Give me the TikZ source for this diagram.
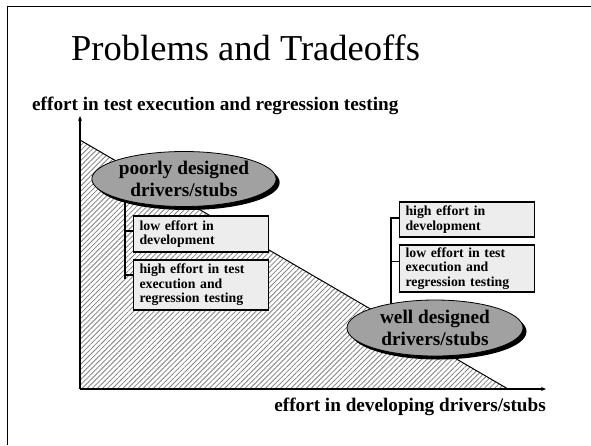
\documentclass[tikz,border=0pt]{standalone}
\usepackage{fontspec}
\setmainfont{Liberation Serif}
\usepackage{tikz}
\usetikzlibrary{arrows.meta,positioning,shapes.geometric,shadows,patterns.meta}
\definecolor{ellgray}{gray}{0.63}
\definecolor{boxgray}{gray}{0.93}

\begin{document}
\begin{tikzpicture}[x=1pt, y=-1pt,
  box/.style={draw, line width=1.1pt, fill=boxgray, font=\bfseries\fontsize{13.8}{14.5}\selectfont,
              align=left, text width=123pt, inner xsep=6pt, inner ysep=0pt, anchor=west},
  blob/.style={ellipse, draw, fill=ellgray, line width=0.8pt,
               drop shadow={fill=black, opacity=1, shadow xshift=3.5pt, shadow yshift=-3.5pt},
               font=\bfseries\fontsize{19.3}{22}\selectfont, align=center, inner sep=0pt},
  lbl/.style={font=\bfseries\fontsize{19.2}{21}\selectfont, inner sep=0pt},
  brk/.style={line width=1.1pt}]
  \useasboundingbox (0,0) rectangle (591,445);
  % Rahmen (nur links und oben sichtbar)
  \draw[line width=1.2pt] (7.5,445) -- (7.5,6.5) -- (591,6.5);
  % Titel
  \node[anchor=base west, inner sep=0pt, font=\fontsize{36.5}{40}\selectfont] (title) at (71,60) {Problems and Tradeoffs};
  % Schraffierte Flaeche
  \fill[pattern={Lines[angle=45, distance=3.6pt, line width=0.8pt]}, pattern color=gray]
    (80,140) -- (508,389) -- (80,389) -- cycle;
  \draw[line width=1pt] (80,140) -- (508,389);
  % Achsen
  \coordinate (O) at (80,389);
  \coordinate (ytip) at (80,116);
  \coordinate (xtip) at (546,389);
  \draw[line width=1.1pt, -{Stealth[length=5pt, width=4pt]}] (O) -- (ytip);
  \draw[line width=1.1pt, -{Stealth[length=5pt, width=4pt]}] (O) -- (xtip);
  \node[lbl, anchor=base west] (ylab) at (32,110) {effort in test execution and regression testing};
  \node[lbl, anchor=base east] (xlab) at (546,411) {effort in developing drivers/stubs};
  % Kaesten links
  \node[box, minimum height=36pt] (lo1) at (133,234) {low effort in\\development};
  \node[box, minimum height=50pt] (hi1) at (133,285) {high effort in test\\execution and\\regression testing};
  % Kaesten rechts
  \node[box, minimum height=35pt] (hi2) at (399,219.5) {high effort in\\development};
  \node[box, minimum height=47pt] (lo2) at (399,268.5) {low effort in test\\execution and\\regression testing};
  % Klammern
  \coordinate (bk1) at (125,195);
  \coordinate (bk1e) at (125,279);
  \draw[brk] (bk1) -- (bk1e);
  \draw[brk] (bk1 |- lo1.west) ++(0,-3) -- ([yshift=3pt]lo1.west);
  \draw[brk] (bk1 |- hi1.west) ++(0,-10) -- ([yshift=10pt]hi1.west);
  \coordinate (bk2) at (391,218);
  \coordinate (bk2e) at (391,315);
  \draw[brk] (bk2e) -- (bk2) -- (hi2.west |- bk2);
  \draw[brk] (bk2 |- lo2.west) ++(0,-7) -- ([yshift=7pt]lo2.west);
  % Ellipsen
  \node[blob, minimum width=178pt, minimum height=55pt] (pd) at (184,179) {poorly designed\\drivers/stubs};
  \node[blob, minimum width=176pt, minimum height=56pt] (wd) at (435,328) {well designed\\drivers/stubs};
\end{tikzpicture}
\end{document}
